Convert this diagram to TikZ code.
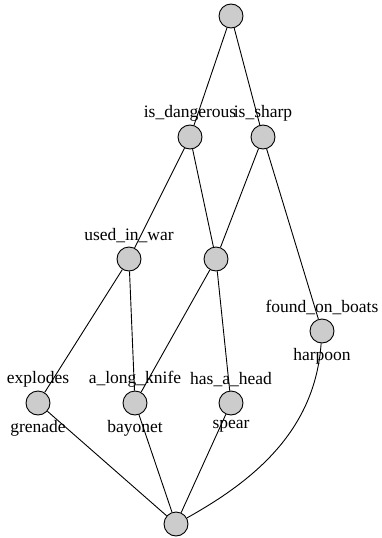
\documentclass[tikz,border=0pt]{standalone}
\usepackage{fontspec}
\setmainfont{Liberation Serif}
\usetikzlibrary{positioning}

\begin{document}
\begin{tikzpicture}[
  x=1pt, y=-1pt,
  concept/.style={draw, circle, fill=lightgray!80, minimum size=24pt,
                  inner sep=0pt, line width=0.9pt,
                  label distance=-1.5pt},
  edge/.style   ={draw, line width=0.9pt},
  every label/.style={font=\fontsize{17.5}{17.5}\selectfont, inner sep=2pt},
  up/.style     ={yshift=1.5pt},
  down/.style   ={yshift=-3pt},
]
\useasboundingbox (0,0) rectangle (382,538);

%% ---- Concepts ----
\node[concept] (top)  at (231,  16) {};
\node[concept, label={[up]above:{is\_dangerous}}]  (dang)  at (190, 137) {};
\node[concept, label={[up]above:{is\_sharp}}]      (sharp) at (263, 137) {};
\node[concept, label={[up]above:{used\_in\_war}}]  (war)   at (129, 259) {};
\node[concept]                                     (mid)   at (216, 259) {};
\node[concept, label={[up]above:{found\_on\_boats}}, label={[down]below:{harpoon}}] (boats) at (322, 331) {};
\node[concept, label={[up]above:{explodes}},       label={[down]below:{grenade}}]  (expl)  at ( 38, 403) {};
\node[concept, label={[up]above:{a\_long\_knife}}, label={[down]below:{bayonet}}]  (knife) at (135, 403) {};
\node[concept, label={[up]above:{has\_a\_head}},   label={[down]below:{spear}}]    (head)  at (231, 403) {};
\node[concept] (bot)  at (176, 524) {};

%% ---- Order ----
\draw[edge] (top) -- (dang);
\draw[edge] (top) -- (sharp);
\draw[edge] (dang) -- (war);
\draw[edge] (dang) -- (mid);
\draw[edge] (sharp) -- (mid);
\draw[edge] (sharp) -- (boats);
\draw[edge] (war) -- (expl);
\draw[edge] (war) -- (knife);
\draw[edge] (mid) -- (knife);
\draw[edge] (mid) -- (head);
\draw[edge] (expl) -- (bot);
\draw[edge] (knife) -- (bot);
\draw[edge] (head) -- (bot);
\draw[edge] (boats) .. controls (315,430) and (255,480) .. (bot);

\end{tikzpicture}
\end{document}
